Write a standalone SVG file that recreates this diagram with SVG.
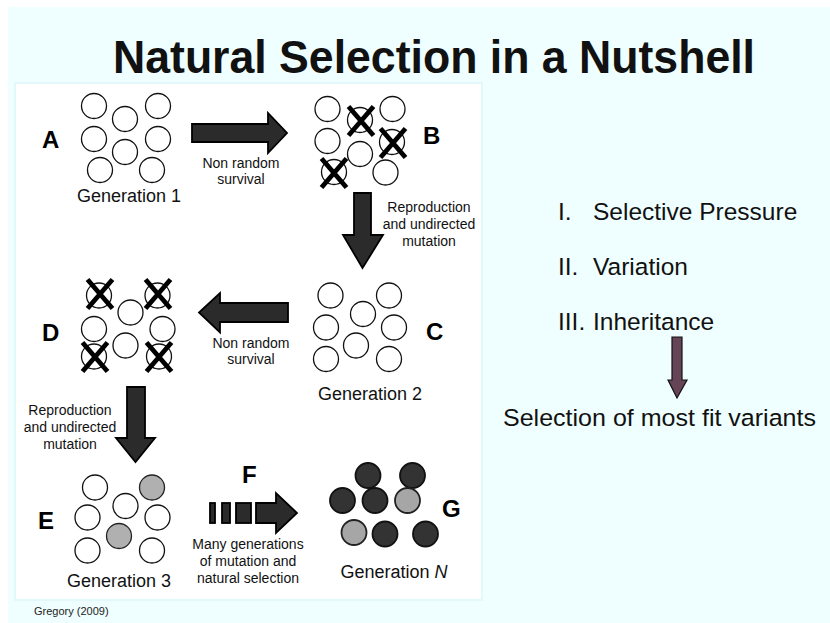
<svg xmlns="http://www.w3.org/2000/svg" width="830" height="623" viewBox="0 0 830 623">
<style>
.w{fill:#fff;stroke:#111;stroke-width:1.3}
.g{fill:#b0b0b0;stroke:#222;stroke-width:1.3}
.d{fill:#333;stroke:#111;stroke-width:1.8}
.gd{fill:#a6a6a6;stroke:#222;stroke-width:1.8}
.x{stroke:#000;stroke-width:4.8;stroke-linecap:butt;fill:none}
.arr{fill:#2b2b2b;stroke:#000;stroke-width:1.8;stroke-linejoin:miter}
.lbl{font-family:"Liberation Sans",Arial,sans-serif;font-weight:bold;font-size:24px;fill:#000}
.gen{font-family:"Liberation Sans",Arial,sans-serif;font-size:18px;fill:#111;text-anchor:middle}
.sm{font-family:"Liberation Sans",Arial,sans-serif;font-size:14px;fill:#111;text-anchor:middle}
.rt{font-family:"Liberation Sans",Arial,sans-serif;font-size:24.5px;fill:#111}
</style>
<defs>
<path id="xm" class="x" d="M-12.5,-14.5 L12.5,14.5 M12.5,-14.5 L-12.5,14.5"/>
</defs>
<rect x="0" y="0" width="830" height="623" fill="#fff"/>
<rect x="8" y="7" width="822" height="616" fill="#effefe"/>
<rect x="15" y="83" width="467" height="517" fill="#fff" stroke="#e2f8fa" stroke-width="2"/>
<text x="434" y="73" font-family="'Liberation Sans',Arial,sans-serif" font-weight="bold" font-size="46" text-anchor="middle" fill="#111" textLength="642" lengthAdjust="spacingAndGlyphs">Natural Selection in a Nutshell</text>

<g id="connectors">
<path id="arrow-AB" class="arr" d="M192,124 H268 V113 L287,133 L268,153 V142 H192 Z"/>
<path id="arrow-BC" class="arr" d="M354,193 H371 V235 H383 L362.5,268 L343,235 H354 Z"/>
<path id="arrow-CD" class="arr" d="M288,303 H220 V293 L199,312.5 L220,332.5 V322 H288 Z"/>
<path id="arrow-DE" class="arr" d="M127,387 H145 V438 H155 L135.5,462 L116,438 H127 Z"/>
<g id="arrow-EG">
<rect class="arr" x="210" y="503" width="5" height="20"/>
<rect class="arr" x="222" y="503" width="8" height="20"/>
<rect class="arr" x="236" y="503" width="15" height="20"/>
<path class="arr" d="M256,503 H276 V493 L297,513 L276,533 V523 H256 Z"/>
</g>
<path id="arrow-sel" d="M672,337 H682 V380 H687 L677,398 L668,380 H672 Z" fill="#654458" stroke="#111" stroke-width="1.2"/>
</g>

<g id="nodeA">
<text class="lbl" x="42" y="148">A</text>
<circle class="w" cx="94" cy="106" r="12.5"/>
<circle class="w" cx="158" cy="106" r="12.5"/>
<circle class="w" cx="125" cy="119" r="12.5"/>
<circle class="w" cx="94" cy="139" r="12.5"/>
<circle class="w" cx="158" cy="139" r="12.5"/>
<circle class="w" cx="125" cy="152" r="12.5"/>
<circle class="w" cx="100" cy="170" r="12.5"/>
<circle class="w" cx="152" cy="170" r="12.5"/>
<text class="gen" x="129" y="202">Generation 1</text>
</g>
<g id="labelAB">
<text class="sm" x="241" y="168">Non random</text>
<text class="sm" x="241" y="184">survival</text>
</g>

<g id="nodeB">
<circle class="w" cx="327.5" cy="109" r="12.5"/>
<circle class="w" cx="360" cy="120" r="12.5"/>
<circle class="w" cx="392.5" cy="109" r="12.5"/>
<circle class="w" cx="327.5" cy="141" r="12.5"/>
<circle class="w" cx="392" cy="142" r="12.5"/>
<circle class="w" cx="360" cy="154" r="12.5"/>
<circle class="w" cx="334" cy="172" r="12.5"/>
<circle class="w" cx="385.5" cy="172.5" r="12.5"/>
<use href="#xm" x="361" y="121"/>
<use href="#xm" x="393" y="143"/>
<use href="#xm" x="334" y="173"/>
<text class="lbl" x="423" y="144">B</text>
</g>
<g id="labelBC">
<text class="sm" x="429" y="212">Reproduction</text>
<text class="sm" x="429" y="229">and undirected</text>
<text class="sm" x="429" y="246">mutation</text>
</g>

<g id="nodeC">
<circle class="w" cx="330.5" cy="295.5" r="12.5"/>
<circle class="w" cx="389" cy="295.5" r="12.5"/>
<circle class="w" cx="363" cy="314" r="12.5"/>
<circle class="w" cx="326" cy="327.5" r="12.5"/>
<circle class="w" cx="394" cy="327.5" r="12.5"/>
<circle class="w" cx="356" cy="345.5" r="12.5"/>
<circle class="w" cx="326" cy="359" r="12.5"/>
<circle class="w" cx="389" cy="359" r="12.5"/>
<text class="lbl" x="426" y="340">C</text>
<text class="gen" x="370" y="400">Generation 2</text>
</g>
<g id="labelCD">
<text class="sm" x="251" y="348">Non random</text>
<text class="sm" x="251" y="364">survival</text>
</g>

<g id="nodeD">
<text class="lbl" x="42" y="341">D</text>
<circle class="w" cx="99" cy="295.5" r="12.5"/>
<circle class="w" cx="157.5" cy="295.5" r="12.5"/>
<circle class="w" cx="130.5" cy="312.5" r="12.5"/>
<circle class="w" cx="94" cy="329" r="12.5"/>
<circle class="w" cx="162.5" cy="329" r="12.5"/>
<circle class="w" cx="125.5" cy="345.5" r="12.5"/>
<circle class="w" cx="94" cy="356.5" r="12.5"/>
<circle class="w" cx="159" cy="356.5" r="12.5"/>
<use href="#xm" x="100" y="294"/>
<use href="#xm" x="158" y="294"/>
<use href="#xm" x="95" y="357"/>
<use href="#xm" x="159" y="357"/>
</g>
<g id="labelDE">
<text class="sm" x="70" y="415">Reproduction</text>
<text class="sm" x="70" y="432">and undirected</text>
<text class="sm" x="70" y="449">mutation</text>
</g>

<g id="nodeE">
<text class="lbl" x="38" y="529">E</text>
<circle class="w" cx="95" cy="487.5" r="12.5"/>
<circle class="g" cx="152" cy="487.5" r="12.5"/>
<circle class="w" cx="125.5" cy="506" r="12.5"/>
<circle class="w" cx="87.5" cy="517.5" r="12.5"/>
<circle class="w" cx="157.5" cy="517.5" r="12.5"/>
<circle class="g" cx="119" cy="536" r="12.5"/>
<circle class="w" cx="87.5" cy="550.5" r="12.5"/>
<circle class="w" cx="152" cy="550.5" r="12.5"/>
<text class="gen" x="119" y="587">Generation 3</text>
</g>

<g id="labelF">
<text class="lbl" x="242" y="483">F</text>
<text class="sm" x="248" y="549">Many generations</text>
<text class="sm" x="248" y="566">of mutation and</text>
<text class="sm" x="248" y="583">natural selection</text>
</g>

<g id="nodeG">
<circle class="d" cx="368" cy="475.5" r="12.5"/>
<circle class="d" cx="412.5" cy="475.5" r="12.5"/>
<circle class="d" cx="342.5" cy="500.5" r="12.5"/>
<circle class="d" cx="375" cy="500.5" r="12.5"/>
<circle class="gd" cx="407.5" cy="500.5" r="12.5"/>
<circle class="gd" cx="354" cy="532.5" r="12.5"/>
<circle class="d" cx="385" cy="534" r="12.5"/>
<circle class="d" cx="425.5" cy="534" r="12.5"/>
<text class="lbl" x="442" y="517">G</text>
<text class="gen" x="394" y="578">Generation <tspan font-style="italic">N</tspan></text>
</g>

<text x="34" y="615" font-family="'Liberation Sans',Arial,sans-serif" font-size="11" fill="#222">Gregory (2009)</text>

<g id="principles">
<text class="rt" x="558" y="220">I.</text>
<text class="rt" x="593" y="220">Selective Pressure</text>
<text class="rt" x="558" y="275">II.</text>
<text class="rt" x="593" y="275">Variation</text>
<text class="rt" x="558" y="330">III.</text>
<text class="rt" x="593" y="330">Inheritance</text>
<text class="rt" x="503" y="426" textLength="313" lengthAdjust="spacingAndGlyphs">Selection of most fit variants</text>
</g>
</svg>
